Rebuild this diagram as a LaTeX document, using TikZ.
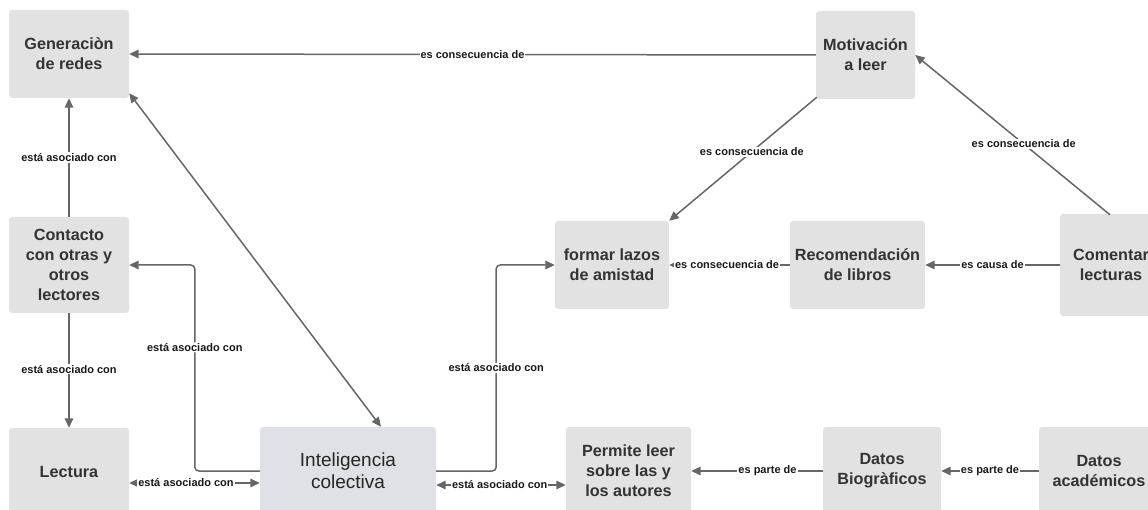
\documentclass[tikz,border=0pt]{standalone}
\usepackage{fontspec}
\setmainfont{Liberation Sans}
\usetikzlibrary{arrows.meta,calc}
\definecolor{boxfill}{HTML}{E2E2E2}
\definecolor{boxblue}{HTML}{DFE1E6}
\definecolor{txt}{HTML}{333333}
\definecolor{lnk}{HTML}{666666}
\tikzset{
  box/.style={draw=none, fill=boxfill, rounded corners=3pt, inner sep=0pt, align=center,
    text=txt, font=\fontsize{16.2}{20}\selectfont\bfseries},
  bluebox/.style={box, fill=boxblue, text=black!85, font=\fontsize{19}{22}\selectfont},
  conn/.style={draw=lnk, line width=1.5pt, -{Triangle[length=9.5pt,width=8.5pt]}},
  dconn/.style={draw=lnk, line width=1.5pt, {Triangle[length=9.5pt,width=8.5pt]}-{Triangle[length=9.5pt,width=8.5pt]}},
  lbl/.style={fill=white, inner sep=1pt, text=black!90, font=\fontsize{11}{12}\selectfont\bfseries}
}
\begin{document}
\begin{tikzpicture}[x=1pt,y=-1pt]
\useasboundingbox (0,0) rectangle (1148,510);
\clip (0,0) rectangle (1148,510);
% nodes
\node[box, minimum width=120pt, minimum height=88pt] (gen) at (69,54) {Generaciòn\\de redes};
\node[box, minimum width=99pt, minimum height=88pt] (mot) at (865.5,55) {Motivación\\a leer};
\node[box, minimum width=120pt, minimum height=96pt] (con) at (69,265) {Contacto\\con otras y\\otros\\lectores};
\node[box, minimum width=120pt, minimum height=88pt] (lec) at (69,472) {Lectura};
\node[bluebox, minimum width=176pt, minimum height=88pt] (int) at (348,471) {Inteligencia\\colectiva};
\node[box, minimum width=125pt, minimum height=88pt] (per) at (628.5,471) {Permite leer\\sobre las y\\los autores};
\node[box, minimum width=118pt, minimum height=88pt] (bio) at (882,471) {Datos\\Biogràficos};
\node[box, minimum width=120pt, minimum height=88pt] (aca) at (1099,471) {Datos\\académicos};
\node[box, minimum width=114pt, minimum height=88pt] (laz) at (612,265) {formar lazos\\de amistad};
\node[box, minimum width=135pt, minimum height=88pt] (rec) at (857.5,265) {Recomendación\\de libros};
\node[box, minimum width=102pt, minimum height=102pt] (com) at (1111,265) {Comentar\\lecturas};
% connectors
\draw[conn] (mot.west) -- node[lbl, pos=0.5] {es consecuencia de} (gen.east);
\draw[conn] (con.north) -- node[lbl] {está asociado con} (gen.south);
\draw[conn] (con.south) -- node[lbl, pos=0.49] {está asociado con} (lec.north);
\draw[dconn] ([yshift=5pt]gen.south east) -- ([xshift=33pt]int.north);
\draw[conn, rounded corners=4pt] (int.west) -- ++(-65,0) |- node[lbl, pos=0.3] {está asociado con} (con.east);
\draw[dconn] ([yshift=-11pt]lec.east) -- node[lbl, pos=0.435] {está asociado con} ([yshift=-12pt]int.west);
\draw[conn, rounded corners=4pt] (int.east) -- ++(60,0) |- node[lbl, pos=0.25] {está asociado con} (laz.west);
\draw[dconn] ([yshift=-14pt]int.east) -- node[lbl, pos=0.49] {está asociado con} ([yshift=-14pt]per.west);
\draw[conn] (bio.west) -- node[lbl, pos=0.42] {es parte de} (per.east);
\draw[conn] (aca.west) -- node[lbl, pos=0.5] {es parte de} (bio.east);
\draw[conn] ([xshift=1pt,yshift=2pt]mot.south west) -- node[lbl, pos=0.44] {es consecuencia de} (laz.north east);
\draw[conn] ([xshift=-1pt,yshift=-1pt]com.north) -- node[lbl, pos=0.443] {es consecuencia de} (mot.east);
\draw[conn] (com.west) -- node[lbl, pos=0.5] {es causa de} (rec.east);
\draw[conn] (rec.west) -- node[lbl, pos=0.52] {es consecuencia de} (laz.east);
\end{tikzpicture}
\end{document}
